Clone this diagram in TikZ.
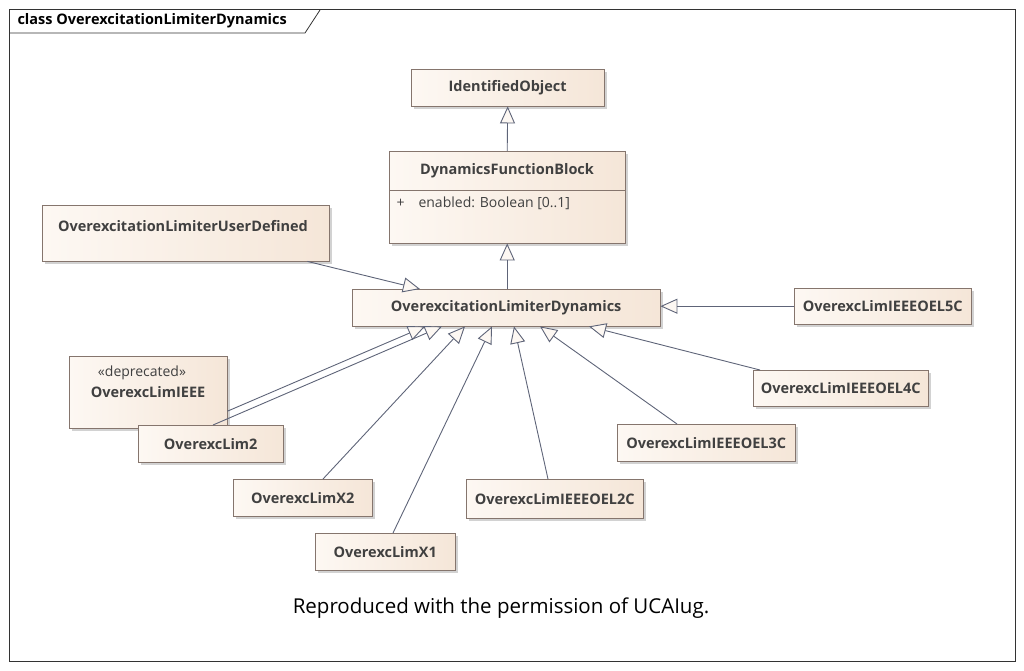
\documentclass[tikz,border=0pt]{standalone}
\usepackage{fontspec}
\setmainfont{Open Sans}
\usetikzlibrary{arrows.meta,shadows,calc}
\definecolor{boxline}{HTML}{85756D}
\definecolor{boxleft}{HTML}{FDF8F3}
\definecolor{boxright}{HTML}{F5E6D8}
\definecolor{linkline}{HTML}{5E6478}
\begin{document}
\begin{tikzpicture}[x=1pt,y=-1pt,
  cls/.style = {draw = boxline, left color = boxleft, right color = boxright,
    drop shadow = {shadow xshift = 2.5pt, shadow yshift = -2.5pt, fill = black!35},
    anchor = north west, inner sep = 0pt, font = \fontsize{14.5}{17}\selectfont\bfseries,
    text = black!75},
  gen/.style = {draw = linkline, line width = 0.9pt,
    -{Triangle[open, length = 17pt, width = 15pt, fill = boxleft]}},
]
\useasboundingbox (0,0) rectangle (1024,670);
% frame
\draw[black!80, line width = 0.8pt] (9,9) rectangle (1015,661);
\draw[black!80, line width = 0.8pt] (9,33) -- (305,33) -- (320,10);
\node[anchor = west, font = \fontsize{14.5}{17}\selectfont\bfseries] (title) at (14,21) {class OverexcitationLimiterDynamics};
% classes
\node[cls, minimum width = 193pt, minimum height = 37pt] (io) at (411,69) {IdentifiedObject};
\node[cls, minimum width = 236pt, minimum height = 92pt] (dfb) at (389,151) {};
\draw[boxline] (389,190) -- (625,190);
\node[font = \fontsize{14.5}{17}\selectfont\bfseries, text = black!75] (dfbname) at (507,171) {DynamicsFunctionBlock};
\node[anchor = west, font = \fontsize{14}{17}\selectfont, text = black!75] (dfbattr) at (393,203) {+\hspace{14pt}enabled: Boolean [0..1]};
\node[cls, minimum width = 287pt, minimum height = 56pt] (ud) at (42,205) {};
\node[font = \fontsize{14.5}{17}\selectfont\bfseries, text = black!75] (udname) at (183,226) {OverexcitationLimiterUserDefined};
\node[cls, minimum width = 308pt, minimum height = 37pt] (oeld) at (352,289) {OverexcitationLimiterDynamics};
\node[cls, minimum width = 177pt, minimum height = 36pt] (el5c) at (794,288) {OverexcLimIEEEOEL5C};
\node[cls, minimum width = 158pt, minimum height = 72pt] (ieee) at (69,356) {};
\node[font = \fontsize{14}{17}\selectfont, text = black!75] (ieeest) at (142,373) {«deprecated»};
\node[font = \fontsize{14.5}{17}\selectfont\bfseries, text = black!75] (ieeename) at (148,392) {OverexcLimIEEE};
\node[cls, minimum width = 145pt, minimum height = 37pt] (lim2) at (138,425) {OverexcLim2};
\node[cls, minimum width = 139pt, minimum height = 37pt] (x2) at (233,479) {OverexcLimX2};
\node[cls, minimum width = 140pt, minimum height = 37pt] (x1) at (315,533) {OverexcLimX1};
\node[cls, minimum width = 177pt, minimum height = 39pt] (el2c) at (466,479) {OverexcLimIEEEOEL2C};
\node[cls, minimum width = 178pt, minimum height = 37pt] (el3c) at (617,424) {OverexcLimIEEEOEL3C};
\node[cls, minimum width = 175pt, minimum height = 36pt] (el4c) at (753,370) {OverexcLimIEEEOEL4C};
% generalisations
\draw[gen] (dfb.north) -- (io.south);
\draw[gen] (oeld.north -| dfb.south) -- (dfb.south);
\draw[gen] ([xshift = -22pt]ud.south east) -- ([xshift = 68pt]oeld.north west);
\draw[gen] (el5c.west) -- (oeld.east |- el5c.west);
\draw[gen] ([yshift = -19pt]ieee.east) -- ([xshift = 73pt]oeld.south west);
\draw[gen] ([xshift = 75pt]lim2.north west) -- ([xshift = 90pt]oeld.south west);
\draw[gen] ([xshift = 90pt]x2.north west) -- ([xshift = 113pt]oeld.south west);
\draw[gen] ([xshift = 78pt]x1.north west) -- ([xshift = 140pt]oeld.south west);
\draw[gen] ([xshift = 82pt]el2c.north west) -- ([xshift = 162pt]oeld.south west);
\draw[gen] ([xshift = 60pt]el3c.north west) -- ([xshift = 188pt]oeld.south west);
\draw[gen] ([xshift = 7pt]el4c.north west) -- ([xshift = 237pt]oeld.south west);
\node[font = \fontsize{20.5}{24}\selectfont] (note) at (501,608) {Reproduced with the permission of UCAIug.};
\end{tikzpicture}
\end{document}
